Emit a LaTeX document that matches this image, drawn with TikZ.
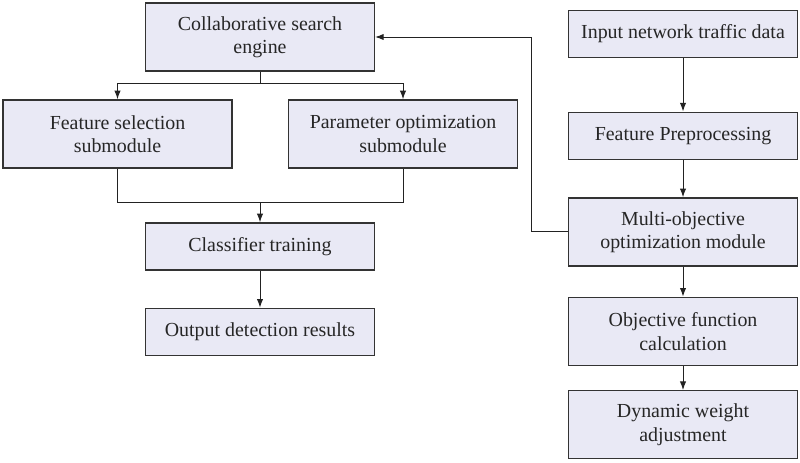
\documentclass[tikz,border=0pt]{standalone}
\usepackage{fontspec}
\setmainfont{Liberation Serif}
\usepackage{tikz}
\usetikzlibrary{positioning, arrows.meta}

\definecolor{boxfill}{HTML}{E9E9F5}
\definecolor{boxline}{HTML}{333333}
\definecolor{wire}{HTML}{222222}

\begin{document}
\begin{tikzpicture}[
    module/.style={rectangle, draw=boxline, line width=1.2pt, fill=boxfill, align=center,
      minimum width=6.86cm, minimum height=1.41cm, inner sep=2pt,
      font=\fontsize{17}{20}\selectfont, text=black!85},
    tall/.style={minimum height=2.04cm},
    wire/.style={draw=wire, line width=0.85pt},
    flow/.style={wire, -{Latex[length=2.6mm, width=1.9mm]}},
]
  \useasboundingbox (0,0) rectangle (24,-13.86);

  % left branch
  \node[module, tall] (collab) at (7.8,-1.11) {Collaborative search\\engine};
  \node[module, tall] (featsel) at (3.525,-4.02) {Feature selection\\submodule};
  \node[module, tall] (paramopt) at (12.09,-4.02) {Parameter optimization\\submodule};
  \node[module] (classifier) at (7.8,-7.395) {Classifier training};
  \node[module, below=1.11cm of classifier] (output) {Output detection results};

  % right column
  \node[module] (input) at (20.49,-1.02) {Input network traffic data};
  \node[module, below=1.6cm of input] (preproc) {Feature Preprocessing};
  \node[module, tall, below=1.12cm of preproc] (multiobj) {Multi-objective\\optimization module};
  \node[module, tall, below=0.9cm of multiobj] (objfunc) {Objective function\\calculation};
  \node[module, tall, below=0.72cm of objfunc] (weight) {Dynamic weight\\adjustment};

  \coordinate[below=0.36cm of collab.south] (split);
  \coordinate[above=0.6cm of classifier.north] (merge);

  \draw[wire] (collab) -- (split);
  \draw[flow] (split) -| (featsel);
  \draw[flow] (split) -| (paramopt);
  \draw[wire] (featsel) |- (merge) -| (paramopt);
  \draw[flow] (merge) -- (classifier);
  \draw[flow] (classifier) -- (output);

  \draw[flow] (input) -- (preproc);
  \draw[flow] (preproc) -- (multiobj);
  \draw[flow] (multiobj) -- (objfunc);
  \draw[flow] (objfunc) -- (weight);

  % feedback to the search engine
  \draw[flow] (multiobj.west) -- ++(-1.08,0) |- (collab.east);
\end{tikzpicture}
\end{document}
